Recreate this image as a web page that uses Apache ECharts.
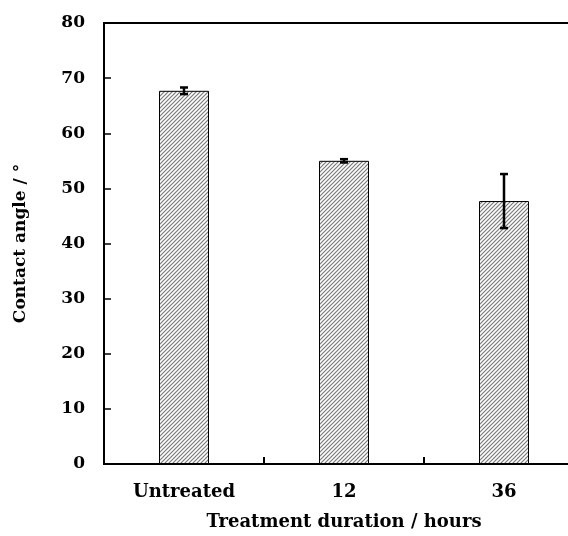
<!DOCTYPE html>
<html><head><meta charset="utf-8">
<script src="https://cdn.jsdelivr.net/npm/echarts@6/dist/echarts.min.js"></script>
<style>html,body{margin:0;padding:0;background:#fff;overflow:hidden;width:568px;height:536px}#c{width:586px;height:536px}</style>
</head><body><div id="c"></div>
<script>
const categories = ['Untreated', '12', '36'];
const contactAngle = [67.7, 55.0, 47.7];
const errorValues = [0.6, 0.3, 4.9];
const yTicks = [0, 10, 20, 30, 40, 50, 60, 70, 80];

const font = 'DejaVu Serif';
const pc = document.createElement('canvas');
pc.width = 4; pc.height = 4;
const g = pc.getContext('2d');
g.fillStyle = '#fff'; g.fillRect(0, 0, 4, 4);
g.strokeStyle = '#7a7a7a'; g.lineWidth = 1.2;
g.beginPath(); g.moveTo(-1, 5); g.lineTo(5, -1); g.stroke();
g.beginPath(); g.moveTo(-1, 1); g.lineTo(1, -1); g.stroke();
g.beginPath(); g.moveTo(3, 5); g.lineTo(5, 3); g.stroke();

const chart = echarts.init(document.getElementById('c'));
chart.setOption({
  animation: false,
  grid: { left: 104, top: 23, right: 2, bottom: 69, show: true, borderColor: '#000', borderWidth: 2, backgroundColor: 'transparent' },
  xAxis: {
    type: 'category', data: categories,
    name: 'Treatment duration / hours', nameLocation: 'middle', nameGap: 49,
    nameTextStyle: { fontFamily: font, fontWeight: 'bold', fontSize: 18, color: '#000' },
    axisLine: { show: true, lineStyle: { color: '#000', width: 2 } },
    axisTick: { show: true, inside: true, length: 7, lineStyle: { color: '#000', width: 2 } },
    axisLabel: { fontFamily: font, fontWeight: 'bold', fontSize: 18, color: '#000', margin: 19 }
  },
  yAxis: {
    type: 'value', min: 0, max: 80, interval: 10,
    name: 'Contact angle / °', nameLocation: 'middle', nameGap: 75,
    nameTextStyle: { fontFamily: font, fontWeight: 'bold', fontSize: 17, color: '#000' },
    axisLine: { show: true, lineStyle: { color: '#000', width: 2 } },
    axisTick: { show: true, inside: true, length: 7, lineStyle: { color: '#000', width: 1.5 } },
    splitLine: { show: false },
    axisLabel: { fontFamily: font, fontWeight: 'bold', fontSize: 17, color: '#000', margin: 19,
      formatter: v => yTicks.includes(v) ? String(v) : '' }
  },
  series: [
    {
      type: 'bar', data: contactAngle, barWidth: 50,
      itemStyle: { color: { image: pc, repeat: 'repeat' }, borderColor: '#000', borderWidth: 1 }
    },
    {
      type: 'custom', z: 10,
      data: contactAngle.map((v, i) => [i, v - errorValues[i], v + errorValues[i]]),
      renderItem: function (params, api) {
        const lo = api.coord([api.value(0), api.value(1)]);
        const hi = api.coord([api.value(0), api.value(2)]);
        const x = lo[0], hw = 4;
        const st = { stroke: '#000', lineWidth: 2.5 };
        return { type: 'group', children: [
          { type: 'line', shape: { x1: x, y1: lo[1], x2: x, y2: hi[1] }, style: st },
          { type: 'line', shape: { x1: x - hw, y1: lo[1], x2: x + hw, y2: lo[1] }, style: st },
          { type: 'line', shape: { x1: x - hw, y1: hi[1], x2: x + hw, y2: hi[1] }, style: st }
        ]};
      }
    }
  ]
});
</script></body></html>
